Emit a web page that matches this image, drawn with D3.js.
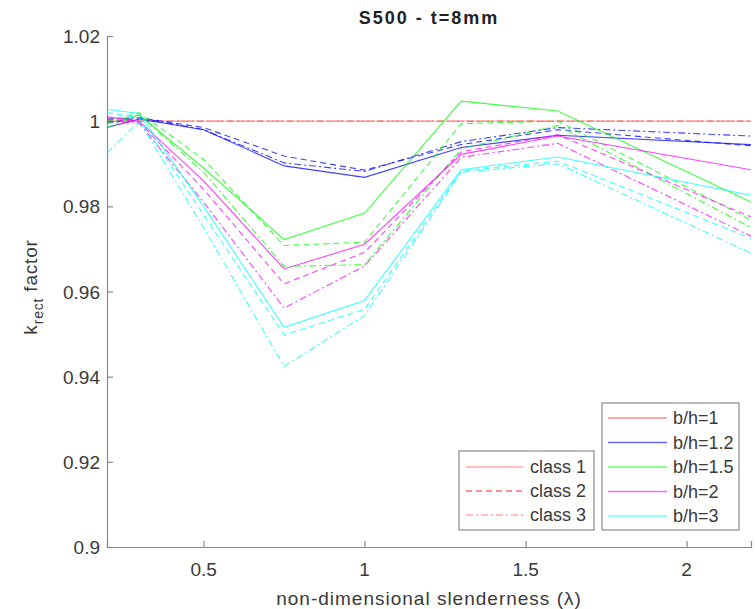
<!DOCTYPE html>
<html>
<head>
<meta charset="utf-8">
<script src="https://cdn.jsdelivr.net/npm/d3@7"></script>
<style>
body { margin: 0; background: #fff; }
text { font-family: "Liberation Sans", Arial, sans-serif; }
</style>
</head>
<body>
<script>
// slenderness values
const lambda = [0.2, 0.3, 0.5, 0.75, 1.0, 1.3, 1.6, 2.2];

// k_rect per b/h ratio, one array per section class
const bh1_c1 = [1, 1, 1, 1, 1, 1, 1, 1];
const bh1_c2 = [1, 1, 1, 1, 1, 1, 1, 1];
const bh1_c3 = [1, 1, 1, 1, 1, 1, 1, 1];

const bh12_c1 = [0.9985, 1.0005, 0.998, 0.9895, 0.9868, 0.9938, 0.9967, 0.9945];
const bh12_c2 = [0.9995, 1.0008, 0.9985, 0.9918, 0.9885, 0.9945, 0.998, 0.9942];
const bh12_c3 = [1.0005, 1.0008, 0.998, 0.9902, 0.9882, 0.9952, 0.9985, 0.9965];

const bh15_c1 = [0.9995, 1.0015, 0.989, 0.9722, 0.9784, 1.0047, 1.0024, 0.981];
const bh15_c2 = [1.0, 1.002, 0.991, 0.9708, 0.9716, 0.9994, 1.0, 0.9768];
const bh15_c3 = [0.9985, 1.0015, 0.988, 0.9659, 0.9663, 0.9935, 0.999, 0.975];

const bh2_c1 = [1.001, 1.0, 0.986, 0.9653, 0.9711, 0.9922, 0.9965, 0.9886];
const bh2_c2 = [1.0005, 0.9998, 0.984, 0.9618, 0.9692, 0.9928, 0.9968, 0.9775];
const bh2_c3 = [1.0, 0.9995, 0.981, 0.9561, 0.966, 0.9915, 0.9948, 0.973];

const bh3_c1 = [1.0028, 1.0018, 0.980, 0.9516, 0.9579, 0.9886, 0.9916, 0.9826];
const bh3_c2 = [1.002, 1.0008, 0.978, 0.9498, 0.9558, 0.9883, 0.9906, 0.9725];
const bh3_c3 = [0.9925, 1.0, 0.975, 0.9424, 0.9544, 0.988, 0.990, 0.969];

const ratioLabels = ["b/h=1", "b/h=1.2", "b/h=1.5", "b/h=2", "b/h=3"];
const ratioColors = ["#ff0000", "#0000ff", "#00ff00", "#ff00ff", "#00ffff"];
const classLabels = ["class 1", "class 2", "class 3"];
const classDash = [null, "6,4", "7,3,2,3"];

const xTicks = [0.5, 1, 1.5, 2];
const yTicks = [0.9, 0.92, 0.94, 0.96, 0.98, 1, 1.02];

const series = [
  [bh1_c1, bh1_c2, bh1_c3],
  [bh12_c1, bh12_c2, bh12_c3],
  [bh15_c1, bh15_c2, bh15_c3],
  [bh2_c1, bh2_c2, bh2_c3],
  [bh3_c1, bh3_c2, bh3_c3]
];

const w = 755, h = 609;
const mLeft = 107, mRight = 751, mTop = 36, mBottom = 547;
const axisColor = "#8a8a8a";
const textColor = "#3a3a3a";

const svg = d3.select("body").append("svg")
  .attr("width", w)
  .attr("height", h);

const x = d3.scaleLinear().domain([0.2, 2.2]).range([mLeft, mRight]);
const y = d3.scaleLinear().domain([0.9, 1.02]).range([mBottom, mTop]);

// axes with inward ticks
const xAxis = svg.append("g")
  .attr("transform", `translate(0,${mBottom})`)
  .call(d3.axisTop(x).tickValues(xTicks).tickSize(6).tickFormat(""));
const yAxis = svg.append("g")
  .attr("transform", `translate(${mLeft},0)`)
  .call(d3.axisRight(y).tickValues(yTicks).tickSize(6).tickFormat(""));
[xAxis, yAxis].forEach(a => {
  a.selectAll("path").attr("stroke", axisColor).attr("stroke-width", 1.2);
  a.selectAll("line").attr("stroke", axisColor).attr("stroke-width", 1.2);
});

svg.selectAll(".xlab").data(xTicks).enter().append("text")
  .attr("x", d => x(d))
  .attr("y", 576)
  .attr("text-anchor", "middle")
  .attr("font-size", 19)
  .attr("fill", textColor)
  .text(d => d);

svg.selectAll(".ylab").data(yTicks).enter().append("text")
  .attr("x", 100)
  .attr("y", d => y(d) + 7)
  .attr("text-anchor", "end")
  .attr("font-size", 19)
  .attr("fill", textColor)
  .text(d => d);

// lines
const line = d3.line()
  .x((d, i) => x(lambda[i]))
  .y(d => y(d));

const plot = svg.append("g");
series.forEach((group, r) => {
  group.forEach((vals, c) => {
    plot.append("path")
      .attr("d", line(vals))
      .attr("fill", "none")
      .attr("stroke", ratioColors[r])
      .attr("stroke-opacity", r == 0 ? 0.3 : 0.75)
      .attr("stroke-width", 1.1)
      .attr("stroke-dasharray", classDash[c]);
  });
});

// title and axis labels
svg.append("text")
  .attr("x", (mLeft + mRight) / 2)
  .attr("y", 24)
  .attr("text-anchor", "middle")
  .attr("font-size", 18)
  .attr("font-weight", "bold")
  .attr("letter-spacing", 2)
  .attr("fill", "#222")
  .text("S500 - t=8mm");

svg.append("text")
  .attr("x", (mLeft + mRight) / 2)
  .attr("y", 605)
  .attr("text-anchor", "middle")
  .attr("font-size", 19)
  .attr("letter-spacing", 1)
  .attr("fill", textColor)
  .text("non-dimensional slenderness (λ)");

const ylab = svg.append("text")
  .attr("transform", "translate(37,287) rotate(-90)")
  .attr("text-anchor", "middle")
  .attr("font-size", 19)
  .attr("letter-spacing", 0.8)
  .attr("fill", textColor);
ylab.append("tspan").text("k");
ylab.append("tspan").attr("font-size", 14).attr("dy", 6).text("rect");
ylab.append("tspan").attr("dy", -6).text(" factor");

// legend: classes
const lg1 = svg.append("g");
lg1.append("rect")
  .attr("x", 459).attr("y", 451).attr("width", 135).attr("height", 79)
  .attr("fill", "#fff").attr("stroke", "#777").attr("stroke-width", 1);
classLabels.forEach((lab, i) => {
  const yy = 467 + i * 24;
  lg1.append("line")
    .attr("x1", 466).attr("x2", 523).attr("y1", yy).attr("y2", yy)
    .attr("stroke", "#ff0000").attr("stroke-opacity", i == 1 ? 0.85 : 0.5)
    .attr("stroke-width", 1.1)
    .attr("stroke-dasharray", classDash[i]);
  lg1.append("text")
    .attr("x", 530).attr("y", yy + 6)
    .attr("font-size", 18).attr("fill", textColor)
    .text(lab);
});

// legend: ratios
const lg2 = svg.append("g");
lg2.append("rect")
  .attr("x", 602).attr("y", 403).attr("width", 137).attr("height", 127)
  .attr("fill", "#fff").attr("stroke", "#777").attr("stroke-width", 1);
ratioLabels.forEach((lab, i) => {
  const yy = 418 + i * 24.5;
  lg2.append("line")
    .attr("x1", 608).attr("x2", 667).attr("y1", yy).attr("y2", yy)
    .attr("stroke", ratioColors[i]).attr("stroke-opacity", i == 0 ? 0.45 : 0.6)
    .attr("stroke-width", 1.3);
  lg2.append("text")
    .attr("x", 673).attr("y", yy + 6)
    .attr("font-size", 18).attr("fill", textColor)
    .text(lab);
});
</script>
</body>
</html>
